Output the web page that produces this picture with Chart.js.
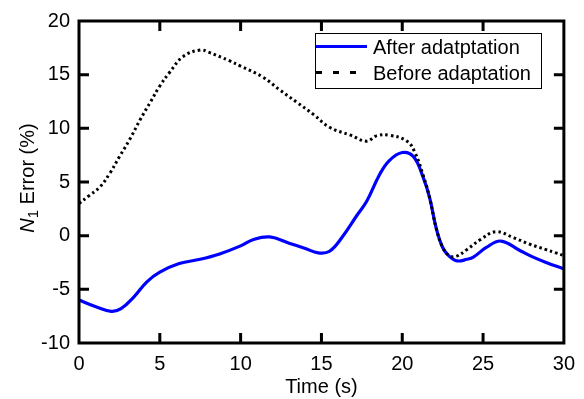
<!DOCTYPE html>
<html>
<head>
<meta charset="utf-8">
<script src="https://cdn.jsdelivr.net/npm/chart.js@4.4.0/dist/chart.umd.min.js"></script>
<style>
  html, body { margin: 0; padding: 0; background: #fff; }
  #wrap { width: 584px; height: 399px; }
</style>
</head>
<body>
<div id="wrap"><canvas id="errChart" width="584" height="399"></canvas></div>
<script>
// N1 error, after adaptation (blue solid)
const afterTime  = [0, 1, 2, 2.6, 3.4, 4.2, 5, 6.2, 7.5, 8.7, 10, 10.8, 11.8, 13, 14, 14.8, 15.5, 16.3, 17.2, 17.8, 18.6, 19.2, 20, 20.7, 21.3, 21.7, 22.1, 22.5, 22.9, 23.4, 24, 24.4, 25.2, 26.1, 27.3, 28.1, 28.9, 30];
const afterError = [-6.0, -6.6, -7.05, -6.8, -5.7, -4.3, -3.4, -2.6, -2.2, -1.7, -0.95, -0.35, -0.12, -0.7, -1.2, -1.6, -1.45, -0.1, 1.9, 3.2, 5.7, 7.0, 7.75, 7.35, 5.4, 3.5, 0.7, -1.1, -1.9, -2.35, -2.2, -2.0, -1.1, -0.5, -1.4, -2.0, -2.5, -3.1];

// N1 error, before adaptation (black dotted)
const beforeTime  = [0, 0.6, 1.3, 1.9, 2.5, 3.15, 3.8, 4.4, 5, 5.6, 6.45, 7.5, 8, 9.3, 10, 11.4, 12.4, 13.5, 14.5, 15.5, 16.8, 17.8, 18.4, 19.2, 20.3, 20.8, 21.3, 21.7, 22.1, 22.5, 22.9, 23.3, 24, 24.8, 25.8, 26.9, 27.9, 28.9, 29.5, 30];
const beforeError = [3.0, 3.7, 4.55, 5.8, 7.35, 9.0, 10.85, 12.4, 13.95, 15.2, 16.7, 17.3, 17.1, 16.3, 15.8, 14.75, 13.6, 12.4, 11.3, 10.1, 9.36, 8.8, 9.3, 9.36, 8.8, 7.7, 5.6, 3.5, 0.7, -1.1, -1.85, -1.95, -1.3, -0.4, 0.37, -0.2, -0.8, -1.3, -1.6, -1.85];

const xTicks = [0, 5, 10, 15, 20, 25, 30];
const yTicks = [-10, -5, 0, 5, 10, 15, 20];

const FONT = "'Liberation Sans', Arial, sans-serif";
Chart.defaults.font.family = FONT;
Chart.defaults.color = '#000';

function toPoints(xs, ys) {
    return xs.map((t, i) => ({ x: t, y: ys[i] }));
}

// frame, inward ticks, boxed legend
const framePlugin = {
    id: 'frame',
    afterDatasetsDraw(chart) {
        const { ctx, chartArea: a, scales: { x, y } } = chart;
        ctx.save();
        ctx.strokeStyle = '#000';
        ctx.lineWidth = 3;
        ctx.strokeRect(a.left, a.top, a.right - a.left, a.bottom - a.top);

        ctx.beginPath();
        x.ticks.forEach(t => {
            const px = x.getPixelForValue(t.value);
            if (px <= a.left + 1 || px >= a.right - 1) return;
            ctx.moveTo(px, a.bottom); ctx.lineTo(px, a.bottom - 10);
            ctx.moveTo(px, a.top); ctx.lineTo(px, a.top + 10);
        });
        y.ticks.forEach(t => {
            const py = y.getPixelForValue(t.value);
            if (py <= a.top + 1 || py >= a.bottom - 1) return;
            ctx.moveTo(a.left, py); ctx.lineTo(a.left + 10, py);
            ctx.moveTo(a.right, py); ctx.lineTo(a.right - 10, py);
        });
        ctx.stroke();

        // legend box
        const bx = 315.5, by = 33.5, bw = 226, bh = 55;
        ctx.fillStyle = '#fff';
        ctx.fillRect(bx, by, bw, bh);
        ctx.lineWidth = 1;
        ctx.strokeRect(bx, by, bw, bh);

        ctx.font = '20px ' + FONT;
        ctx.textBaseline = 'alphabetic';
        ctx.textAlign = 'left';
        chart.data.datasets.forEach((ds, i) => {
            const ly = 46.5 + i * 26;
            ctx.save();
            ctx.strokeStyle = ds.borderColor;
            ctx.lineWidth = ds.borderWidth;
            ctx.setLineDash(ds.borderDash ? [6, 11] : []);
            ctx.beginPath();
            ctx.moveTo(316, ly);
            ctx.lineTo(367, ly);
            ctx.stroke();
            ctx.restore();
            ctx.fillStyle = '#000';
            ctx.fillText(ds.label, 373, ly + 7);
        });
        ctx.restore();
    },
    afterDraw(chart) {
        // y axis title: N (italic) with subscript 1, then " Error (%)"
        const { ctx, chartArea: a } = chart;
        const main = '20px ' + FONT;
        const ital = 'italic 20px ' + FONT;
        const sub = '15px ' + FONT;
        ctx.save();
        ctx.font = ital; const wN = ctx.measureText('N').width;
        ctx.font = sub; const w1 = ctx.measureText('1').width;
        ctx.font = main; const wR = ctx.measureText(' Error (%)').width;
        const total = wN + w1 + wR;
        ctx.translate(34, (a.top + a.bottom) / 2 - 4);
        ctx.rotate(-Math.PI / 2);
        ctx.fillStyle = '#000';
        ctx.textBaseline = 'alphabetic';
        let cx = -total / 2;
        ctx.font = ital; ctx.fillText('N', cx, 0); cx += wN;
        ctx.font = sub; ctx.fillText('1', cx, 4); cx += w1;
        ctx.font = main; ctx.fillText(' Error (%)', cx, 0);
        ctx.restore();
    }
};

const errChart = new Chart(document.getElementById('errChart').getContext('2d'), {
    type: 'line',
    data: {
        datasets: [
            {
                label: 'After adatptation',
                data: toPoints(afterTime, afterError),
                borderColor: '#0000ff',
                borderWidth: 3.2,
                pointRadius: 0,
                tension: 0.4,
                order: 2
            },
            {
                label: 'Before adaptation',
                data: toPoints(beforeTime, beforeError),
                borderColor: '#000000',
                borderWidth: 3,
                borderDash: [2.5, 3],
                borderCapStyle: 'butt',
                pointRadius: 0,
                tension: 0.4,
                order: 1
            }
        ]
    },
    options: {
        responsive: false,
        animation: false,
        devicePixelRatio: 1,
        layout: { padding: { top: 17, right: 20, left: 0, bottom: 0 } },
        plugins: {
            legend: { display: false },
            tooltip: { enabled: false }
        },
        scales: {
            x: {
                type: 'linear',
                min: 0,
                max: 30,
                afterBuildTicks: s => { s.ticks = xTicks.map(v => ({ value: v })); },
                afterFit: s => { s.height = 56; },
                grid: { display: false, drawTicks: false },
                border: { display: false },
                ticks: { font: { size: 20 }, color: '#000', padding: 9, maxRotation: 0 },
                title: { display: true, text: 'Time (s)', font: { size: 20 }, color: '#000', padding: { top: 0, bottom: 0 } }
            },
            y: {
                type: 'linear',
                min: -10,
                max: 20,
                afterBuildTicks: s => { s.ticks = yTicks.map(v => ({ value: v })); },
                afterFit: s => { s.width = 79; },
                grid: { display: false, drawTicks: false },
                border: { display: false },
                ticks: { font: { size: 20 }, color: '#000', padding: 9 }
            }
        }
    },
    plugins: [framePlugin]
});
</script>
</body>
</html>
